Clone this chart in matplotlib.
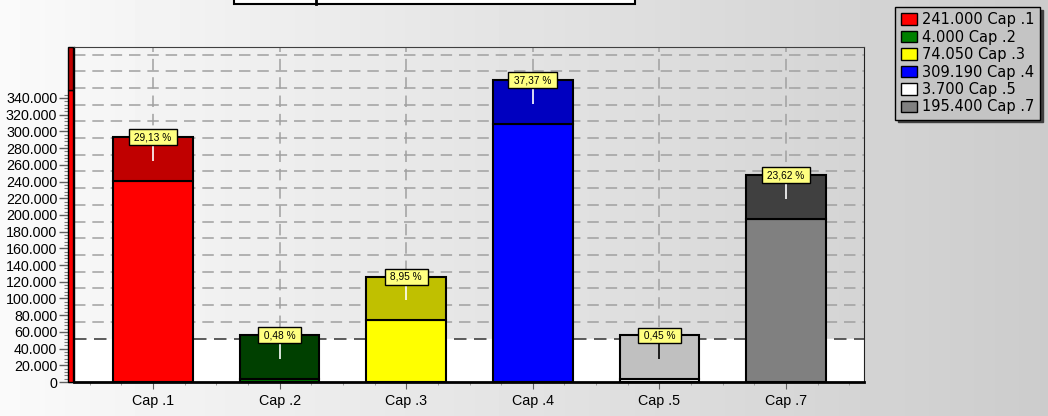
import numpy as np
import matplotlib.pyplot as plt
import matplotlib.transforms as mtransforms
from matplotlib.patches import Rectangle, Patch
from matplotlib.ticker import FuncFormatter, FixedLocator, MultipleLocator

categories = ['Cap .1', 'Cap .2', 'Cap .3', 'Cap .4', 'Cap .5', 'Cap .7']
values = [241000, 4000, 74050, 309190, 3700, 195400]
colors = ['#ff0000', '#008000', '#ffff00', '#0000ff', '#ffffff', '#808080']
top_colors = ['#c00000', '#004000', '#c0c000', '#0000c0', '#c0c0c0', '#404040']
label_band = 52000      # height of the label cap stacked on every bar
axis_band_split = 350000
ytick_values = list(range(0, 340001, 20000))

total = sum(values)
pcts = [v / total * 100 for v in values]


def thousands(v):
    return f"{int(round(v)):,}".replace(',', '.')


fig = plt.figure(figsize=(10.48, 4.16), dpi=100)

# grey gradient background
bg = fig.add_axes([0, 0, 1, 1], zorder=-10)
grad = np.linspace(0.98, 0.80, 256).reshape(1, -1)
bg.imshow(grad, cmap='gray', vmin=0, vmax=1, aspect='auto', extent=[0, 1, 0, 1])
bg.axis('off')

ax = fig.add_axes([74 / 1048, 1 - 382 / 416, 790 / 1048, 335 / 416])
ax.patch.set_alpha(0)
ax.set_xlim(-0.624, 5.616)
ax.set_ylim(0, 401000)

x = np.arange(len(categories))

# grid + white band at the bottom
dash = (0, (7.5, 4.5))
grid_y = np.arange(label_band, 401000, 20000)
ax.hlines(grid_y[1:], -0.624, 5.616, colors='#a0a0a0', linestyles=dash, lw=1.1, zorder=0.5)
ax.vlines(x, 0, 401000, colors='#a0a0a0', linestyles=dash, lw=1.1, zorder=0.5)
ax.axhspan(0, label_band, color='white', zorder=1)
ax.axhline(label_band, color='#404040', ls=dash, lw=1.2, zorder=1.5)

ax.bar(x, values, width=0.63, color=colors, edgecolor='black', lw=1.5, zorder=3)
ax.bar(x, [label_band] * len(values), bottom=values, width=0.63,
       color=top_colors, edgecolor='black', lw=1.5, zorder=3)

for xi, v, p, tc in zip(x, values, pcts, top_colors):
    top = v + label_band
    line_col = 'black' if tc == '#c0c0c0' else 'white'
    ax.vlines(xi, top - 28000, top - 7000, colors=line_col, lw=1.2, zorder=4)
    ax.text(xi, top, " " + f"{p:.2f} %".replace('.', ',') + " ", ha='center', va='center',
            fontsize=7.3, family='Liberation Sans', zorder=6,
            bbox=dict(boxstyle='square,pad=0.28', fc='#ffff80', ec='black', lw=1))

# coloured band along the value axis
trans = mtransforms.blended_transform_factory(ax.transAxes, ax.transData)
ax.add_patch(Rectangle((-0.0076, 0), 0.0063, axis_band_split, transform=trans,
                       fc='#ff0000', ec='black', lw=1, clip_on=False, zorder=5))
ax.add_patch(Rectangle((-0.0076, axis_band_split), 0.0063, 401000 - axis_band_split,
                       transform=trans, fc='#c00000', ec='black', lw=1, clip_on=False, zorder=5))

ax.yaxis.set_major_locator(FixedLocator(ytick_values))
ax.yaxis.set_minor_locator(FixedLocator(list(range(0, 344001, 4000))))
ax.yaxis.set_major_formatter(FuncFormatter(lambda v, p: thousands(v)))
ax.set_xticks(x)
ax.set_xticklabels(categories)
ax.xaxis.set_minor_locator(MultipleLocator(0.25))
for lab in ax.get_xticklabels() + ax.get_yticklabels():
    lab.set_family('Liberation Sans')
    lab.set_fontsize(10.3)
ax.tick_params(axis='y', which='major', length=11, width=1, color='#606060', pad=1)
ax.tick_params(axis='y', which='minor', length=7, width=0.8, color='#808080')
ax.tick_params(axis='x', which='major', length=5, color='#606060', pad=4)
ax.tick_params(axis='x', which='minor', length=2, color='#909090')

ax.spines['bottom'].set_linewidth(2)
ax.spines['left'].set_linewidth(1)
ax.spines['top'].set_color('#404040')
ax.spines['right'].set_color('#202020')

handles = [Patch(fc=c, ec='black', lw=1) for c in colors]
labels = [f"{thousands(v)} {c}" for v, c in zip(values, categories)]
fig.legend(handles, labels, loc='upper right', bbox_to_anchor=(1040 / 1048, 1 - 7 / 416),
           frameon=True, fancybox=False, shadow={'color': '#404040', 'alpha': 1},
           framealpha=1, facecolor='#c4c4c4', edgecolor='black', fontsize=10.5,
           handlelength=1.1, handleheight=0.85, handletextpad=0.4, borderpad=0.35,
           labelspacing=0.17, borderaxespad=0)

# title box, cut off by the top edge
fig.add_artist(Rectangle((234 / 1048, 1 - 4 / 416), (635 - 234) / 1048, 0.1,
                         transform=fig.transFigure, fc='white', ec='black', lw=1.5))
fig.add_artist(plt.Line2D([316 / 1048, 316 / 1048], [1 - 4 / 416, 1], transform=fig.transFigure,
                          color='black', lw=2))

fig.savefig('out.png', dpi=100)
